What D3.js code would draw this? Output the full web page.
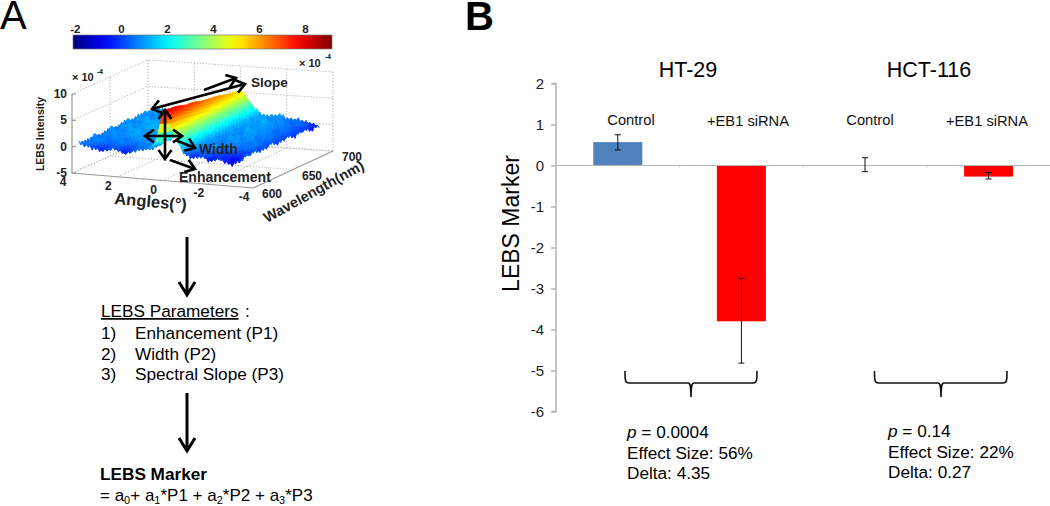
<!DOCTYPE html>
<html>
<head>
<meta charset="utf-8">
<script src="https://cdn.jsdelivr.net/npm/d3@7"></script>
<style>
  html, body { margin: 0; padding: 0; background: #fff; }
  text { font-family: "Liberation Sans", Arial, sans-serif; fill: #000; }
</style>
</head>
<body>
<svg id="fig" width="1050" height="506"></svg>
<script>
// panel B values
const conditions = ["Control", "+EB1 siRNA", "Control", "+EB1 siRNA"];
const markerValues = [0.57, -3.8, 0, -0.27];
const errLow = [0.38, -4.82, -0.15, -0.33];
const errHigh = [0.75, -2.75, 0.19, -0.17];
const barColors = ["#4f81bd", "#ff0000", "#4f81bd", "#ff0000"];
const yTicks = [2, 1, 0, -1, -2, -3, -4, -5, -6];
const cellLines = ["HT-29", "HCT-116"];
const stats1 = ["= 0.0004", "Effect Size: 56%", "Delta: 4.35"];
const stats2 = ["= 0.14", "Effect Size: 22%", "Delta: 0.27"];

// panel A: LEBS surface, z in units of 1e-4
const angles = [3.7, 3.2, 2.7, 2.2, 1.7, 1.2, 0.7, 0.3, 0.1, 0, -0.12, -0.25, -0.4, -0.55, -0.7, -0.85, -1, -1.3, -1.7, -2.1, -2.5, -3, -3.4];
const wavelengths = [600, 610, 620, 630, 640, 650, 660, 670, 680, 690, 700];
const lebsZ = [
  [0.9, 0.1, -0.3, 0.2, -0.4, 0.3, 0.7, 2.2, 5.8, 8.3, 7.6, 6.5, 5.0, 3.6, 2.4, 1.2, 0.2, -0.3, 0.2, -0.6, 0.1, -1.0, -0.2],
  [0.5, 0.9, 0.3, 0.8, 0.1, 0.9, 0.4, 1.6, 5.2, 8.0, 7.4, 6.4, 5.1, 3.8, 2.7, 1.8, 1.2, 0.4, 0.7, 0.1, -0.3, -0.6, 0.4],
  [0.9, 0.4, 1.0, 0.5, 1.2, 0.6, 1.1, 1.7, 4.8, 7.8, 7.1, 6.2, 4.9, 3.7, 2.6, 1.7, 1.4, 0.6, 1.0, 0.5, 0.9, 0.2, 0.3],
  [0.4, 1.1, 0.6, 1.3, 0.7, 1.2, 0.8, 1.4, 4.4, 7.3, 6.9, 5.9, 4.6, 3.5, 2.5, 1.7, 1.1, 0.9, 0.5, 1.1, 0.4, 0.8, -0.1],
  [1.0, 0.5, 1.2, 0.8, 1.4, 0.9, 1.3, 1.8, 4.1, 7.2, 6.6, 5.7, 4.5, 3.4, 2.4, 1.6, 1.2, 0.6, 1.2, 0.7, 1.0, 0.3, 0.4],
  [0.5, 1.2, 0.7, 1.4, 0.9, 1.5, 1.0, 1.5, 3.8, 6.7, 6.3, 5.4, 4.2, 3.2, 2.3, 1.6, 1.1, 1.0, 0.6, 1.2, 0.5, 0.8, -0.2],
  [1.1, 0.6, 1.3, 0.9, 1.5, 1.1, 1.4, 1.9, 3.6, 6.5, 6.0, 5.2, 4.1, 3.1, 2.2, 1.5, 1.3, 0.7, 1.3, 0.8, 1.0, 0.2, 0.3],
  [0.6, 1.2, 0.8, 1.5, 1.0, 1.4, 1.1, 1.6, 3.3, 6.3, 5.7, 4.9, 3.9, 2.9, 2.1, 1.6, 1.1, 1.1, 0.7, 1.2, 0.4, 0.7, -0.3],
  [1.0, 0.5, 1.2, 0.7, 1.3, 0.9, 1.3, 1.7, 3.1, 5.9, 5.5, 4.7, 3.7, 2.8, 2.1, 1.5, 1.3, 0.8, 1.4, 0.7, 0.9, 0.1, 0.2],
  [0.8, 1.3, 0.6, 1.1, 0.7, 1.2, 0.9, 1.4, 2.8, 5.6, 5.2, 4.5, 3.5, 2.7, 2.0, 1.6, 1.0, 1.2, 0.6, 1.0, 0.3, 0.6, -0.5],
  [1.0, 0.6, 0.9, 0.5, 1.0, 0.6, 1.1, 1.2, 2.6, 5.3, 5.0, 4.3, 3.4, 2.6, 1.9, 1.3, 0.9, 0.7, 1.2, 0.4, 0.6, -0.1, -0.4]
];
// fine grain of the measured surface, a small hand-picked tile
const grain = [
  [0.8, -0.7, 0.3, -0.9, 0.6, -0.2, 0.9],
  [-0.5, 0.6, -0.9, 0.4, -0.3, 0.8, -0.6],
  [0.2, -0.8, 0.7, -0.1, 0.9, -0.7, 0.4],
  [-0.9, 0.5, -0.3, 0.8, -0.6, 0.2, -0.4],
  [0.6, -0.2, 0.9, -0.7, 0.1, -0.8, 0.7],
  [-0.4, 0.8, -0.6, 0.3, -0.9, 0.5, -0.1],
  [0.7, -0.6, 0.2, -0.5, 0.8, -0.3, 0.6],
  [-0.8, 0.3, -0.7, 0.9, -0.2, 0.6, -0.9],
  [0.4, -0.9, 0.6, -0.4, 0.7, -0.1, 0.3],
  [-0.2, 0.7, -0.5, 0.1, -0.8, 0.9, -0.7],
  [0.9, -0.3, 0.5, -0.8, 0.4, -0.6, 0.1]
];
const zTicks = [10, 5, 0, -5];
const angleTicks = [4, 2, 0, -2, -4];
const waveTicks = [600, 650, 700];
const colorTicks = [-2, 0, 2, 4, 6, 8];
const jetStops = ["#00007f", "#0000ff", "#00ffff", "#ffff00", "#ff0000", "#7f0000"];
const paramLines = ["Enhancement (P1)", "Width (P2)", "Spectral Slope (P3)"];

const svg = d3.select("#fig");
const defs = svg.append("defs");
defs.append("filter").attr("id", "soft").append("feGaussianBlur").attr("stdDeviation", 0.5);

// ---------- panel B ----------
const y = d3.scaleLinear().domain([-6, 2]).range([411.5, 83.5]);
const x = d3.scaleBand().domain(d3.range(4)).range([556, 1050.4]);
const barW = 49;

const axis = svg.append("g")
  .attr("transform", "translate(556,0)")
  .call(d3.axisLeft(y).tickValues(yTicks).tickSize(5).tickPadding(7).tickFormat(d => String(d)));
axis.selectAll("path,line").attr("stroke", "#b5b5b5").attr("stroke-width", 1.5);
axis.selectAll("text").style("font-size", "15px").style("fill", "#222");
axis.select(".domain").attr("d", `M-4,${y(2)}H0V${y(-6)}H-4`);

svg.selectAll("rect.bar").data(markerValues).enter().append("rect")
  .attr("class", "bar")
  .attr("x", (d, i) => x(i) + x.bandwidth() / 2 - barW / 2)
  .attr("width", barW)
  .attr("y", d => y(Math.max(0, d)))
  .attr("height", d => Math.abs(y(d) - y(0)))
  .attr("fill", (d, i) => barColors[i]);

svg.append("line").attr("x1", 556).attr("x2", 1050).attr("y1", y(0)).attr("y2", y(0))
  .attr("stroke", "#b5b5b5").attr("stroke-width", 1.2);
svg.selectAll("line.cat").data(d3.range(1, 4)).enter().append("line")
  .attr("x1", d => x(d)).attr("x2", d => x(d))
  .attr("y1", y(0)).attr("y2", y(0) + 2).attr("stroke", "#c8c8c8");

const errs = svg.selectAll("g.err").data(markerValues).enter().append("g")
  .attr("transform", (d, i) => `translate(${x(i) + x.bandwidth() / 2},0)`)
  .attr("stroke", "#111").attr("stroke-width", 1);
errs.append("line").attr("y1", (d, i) => y(errLow[i])).attr("y2", (d, i) => y(errHigh[i]));
errs.append("line").attr("x1", -3).attr("x2", 3).attr("y1", (d, i) => y(errLow[i])).attr("y2", (d, i) => y(errLow[i]));
errs.append("line").attr("x1", -3).attr("x2", 3).attr("y1", (d, i) => y(errHigh[i])).attr("y2", (d, i) => y(errHigh[i]));

svg.selectAll("text.cond").data(conditions).enter().append("text")
  .attr("x", (d, i) => [631, 748, 870, 987][i])
  .attr("y", (d, i) => [125, 126, 125, 126][i])
  .attr("text-anchor", "middle").style("font-size", "14.7px").style("fill", "#111")
  .text(d => d);

svg.selectAll("text.line").data(cellLines).enter().append("text")
  .attr("x", (d, i) => [688, 929][i]).attr("y", 77)
  .attr("text-anchor", "middle").style("font-size", "21.5px").text(d => d);

svg.append("text").attr("transform", "translate(519,223.5) rotate(-90)")
  .attr("text-anchor", "middle").style("font-size", "23px").text("LEBS Marker");

function brace(x0, x1, xm, top) {
  return `M${x0},${top}C${x0},${top + 9} ${x0},${top + 12} ${x0 + 4},${top + 12}L${xm - 3},${top + 12}`
    + `C${xm - 1},${top + 12} ${xm},${top + 14} ${xm},${top + 26}C${xm},${top + 14} ${xm + 1},${top + 12} ${xm + 3},${top + 12}`
    + `L${x1 - 4},${top + 12}C${x1},${top + 12} ${x1},${top + 9} ${x1},${top}`;
}
[[625, 757, 691], [874.5, 1007, 941]].forEach(b => {
  svg.append("path").attr("d", brace(b[0], b[1], b[2], 371))
    .attr("fill", "none").attr("stroke", "#111").attr("stroke-width", 1.6);
});

[[627, 438, stats1], [888, 437, stats2]].forEach(s => {
  s[2].forEach((t, i) => {
    const el = svg.append("text").attr("x", s[0]).attr("y", s[1] + i * 20.5).style("font-size", "17.2px");
    if (i === 0) {
      el.append("tspan").style("font-style", "italic").text("p");
      el.append("tspan").text(" " + t);
    } else {
      el.text(t);
    }
  });
});

svg.append("text").attr("x", 465).attr("y", 30).style("font-size", "40px").style("font-weight", "bold").text("B");
svg.append("text").attr("x", 0).attr("y", 29).style("font-size", "40px").text("A");

// ---------- panel A: colour bar ----------
const jet = d3.scaleLinear()
  .domain([-2.1, -0.7, 2.1, 4.9, 7.7, 9.1])
  .range(jetStops).clamp(true);
const cbar = d3.scaleLinear().domain([-2.1, 9.15]).range([73, 332]);

const grad = defs.append("linearGradient").attr("id", "jetbar");
d3.range(0, 1.001, 0.05).forEach(t => {
  grad.append("stop").attr("offset", t).attr("stop-color", jet(cbar.domain()[0] + t * (cbar.domain()[1] - cbar.domain()[0])));
});
svg.append("rect").attr("x", 73).attr("y", 35).attr("width", 259).attr("height", 14)
  .attr("fill", "url(#jetbar)").attr("stroke", "#777").attr("stroke-width", 0.7);
svg.selectAll("text.cb").data(colorTicks).enter().append("text")
  .attr("x", d => cbar(d)).attr("y", 33).attr("text-anchor", "middle")
  .style("font-size", "11.5px").style("font-weight", "bold").style("fill", "#222").text(d => d);

// ---------- panel A: 3D box, projected bilinearly from the floor corners ----------
const angleT = d3.scaleLinear().domain([4, -4]).range([0, 1]);
const waveT = d3.scaleLinear().domain([600, 700]).range([0, 1]);
const zPx = d3.scaleLinear().domain([-5, 10]).range([0, 79]);
const floor = { fl: [72, 173], fr: [253, 188], br: [333, 151], bl: [148, 139] };
function project(a, w, z) {
  const s = angleT(a), t = waveT(w);
  const fx = floor.fl[0] + s * (floor.fr[0] - floor.fl[0]), fy = floor.fl[1] + s * (floor.fr[1] - floor.fl[1]);
  const bx = floor.bl[0] + s * (floor.br[0] - floor.bl[0]), by = floor.bl[1] + s * (floor.br[1] - floor.bl[1]);
  return [fx + t * (bx - fx), fy + t * (by - fy) - zPx(z)];
}
const line3 = d3.line();
const box = svg.append("g").attr("fill", "none").attr("stroke", "#aaa").attr("stroke-width", 0.9).attr("stroke-dasharray", "1.2 1.8");
zTicks.forEach(z => {
  box.append("path").attr("d", line3([project(4, 600, z), project(4, 700, z), project(-4, 700, z)]));
});
angleTicks.slice(1, 4).forEach(a => {
  box.append("path").attr("d", line3([project(a, 600, -5), project(a, 700, -5), project(a, 700, 10)]));
});
waveTicks.slice(1, 2).forEach(w => {
  box.append("path").attr("d", line3([project(4, w, 10), project(4, w, -5), project(-4, w, -5)]));
});
box.append("path").attr("d", line3([project(4, 700, -5), project(4, 700, 10)]));
box.append("path").attr("d", line3([project(-4, 700, -5), project(-4, 700, 10)]));
box.append("path").attr("d", line3([project(4, 600, -5), project(4, 700, -5), project(-4, 700, -5)]));

const solid = svg.append("g").attr("fill", "none").attr("stroke", "#999").attr("stroke-width", 1.2);
solid.append("path").attr("d", line3([project(4, 600, 10), project(4, 600, -5), project(-4, 600, -5), project(-4, 700, -5)]));
zTicks.forEach(z => {
  const p = project(4, 600, z);
  solid.append("line").attr("x1", p[0]).attr("x2", p[0] + 4).attr("y1", p[1]).attr("y2", p[1]);
});

// surface: far rows first, each cell cut into small pieces
const surface = svg.append("g").attr("filter", "url(#soft)");
const SUB_W = 5;
const grainAmount = d3.scaleLinear().domain([2, 3.5]).range([0.42, 0.03]).clamp(true);
const subA = d3.pairs(angles).map(p => Math.max(1, Math.round(Math.abs(p[1] - p[0]) / 0.08)));
const colStart = d3.cumsum([0].concat(subA));
function vertex(c, j, r, k) {
  const u = j / subA[c], v = k / SUB_W;
  const a = angles[c] + (angles[c + 1] - angles[c]) * u;
  const w = wavelengths[r] + (wavelengths[r + 1] - wavelengths[r]) * v;
  const z0 = lebsZ[r][c] + (lebsZ[r][c + 1] - lebsZ[r][c]) * u;
  const z1 = lebsZ[r + 1][c] + (lebsZ[r + 1][c + 1] - lebsZ[r + 1][c]) * u;
  const z = z0 + (z1 - z0) * v;
  const col = colStart[c] + j;
  const g = grain[(r * SUB_W + k + 3 * Math.floor(col / 7)) % grain.length][col % 7];
  return { p: project(a, w, z + g * grainAmount(z)), z, g };
}
for (let r = wavelengths.length - 2; r >= 0; r--) {
  for (let k = SUB_W - 1; k >= 0; k--) {
    for (let c = 0; c < angles.length - 1; c++) {
      for (let j = 0; j < subA[c]; j++) {
        const q = [vertex(c, j, r, k), vertex(c, j + 1, r, k), vertex(c, j + 1, r, k + 1), vertex(c, j, r, k + 1)];
        const mz = d3.mean(q, d => d.z);
        const col = jet(mz < 2.2 ? mz + 0.5 * d3.mean(q, d => d.g) : mz);
        surface.append("path").attr("d", line3(q.map(d => d.p)) + "Z")
          .attr("fill", col).attr("stroke", col).attr("stroke-width", 0.6);
      }
    }
  }
}

// annotation arrows on the surface
defs.append("marker").attr("id", "chev").attr("viewBox", "-11 -8 13 16")
  .attr("markerWidth", 13).attr("markerHeight", 16).attr("markerUnits", "userSpaceOnUse").attr("orient", "auto-start-reverse")
  .append("path").attr("d", "M-9,-6.5L0,0L-9,6.5").attr("fill", "none").attr("stroke", "#000").attr("stroke-width", 2.6);
const arrows = [
  [[152, 109], [245, 84], true],
  [[204, 90], [236, 78], false],
  [[165, 110], [165, 159], true],
  [[145, 136], [182, 136], true],
  [[175, 140], [195, 148], false],
  [[170, 160], [195, 169], false]
];
arrows.forEach(a => {
  svg.append("line").attr("x1", a[0][0]).attr("y1", a[0][1]).attr("x2", a[1][0]).attr("y2", a[1][1])
    .attr("stroke", "#000").attr("stroke-width", 2.6).attr("marker-end", "url(#chev)")
    .attr("marker-start", a[2] ? "url(#chev)" : null);
});

const boldLabels = [
  ["Slope", 251, 87, 13.5, 0],
  ["Width", 199, 154, 14, 0],
  ["Enhancement", 179, 182, 14, 0],
  ["Angles(°)", 114, 204, 16.5, 5],
  ["Wavelength(nm)", 267, 223, 14.5, -29],
  ["× 10", 72, 81, 11, 0],
  ["× 10", 299, 67, 11, 0]
];
boldLabels.forEach(l => {
  svg.append("text").attr("transform", `translate(${l[1]},${l[2]}) rotate(${l[4]})`)
    .style("font-size", l[3] + "px").style("font-weight", "bold").style("fill", "#222").text(l[0]);
});
[[97, 74], [325, 59]].forEach(p => {
  svg.append("text").attr("x", p[0]).attr("y", p[1]).style("font-size", "6.5px").style("font-weight", "bold").text("-4");
});
svg.append("text").attr("transform", "translate(44,134) rotate(-90)").attr("text-anchor", "middle")
  .style("font-size", "10.5px").style("font-weight", "bold").style("fill", "#222").text("LEBS Intensity");

svg.selectAll("text.zt").data(zTicks).enter().append("text")
  .attr("x", 67).attr("y", d => project(4, 600, d)[1] + 4).attr("text-anchor", "end")
  .style("font-size", "12px").style("font-weight", "bold").style("fill", "#222").text(d => d);
svg.selectAll("text.at").data(angleTicks).enter().append("text")
  .attr("x", d => project(d, 600, -5)[0] - 9).attr("y", d => project(d, 600, -5)[1] + 13)
  .attr("text-anchor", "middle").style("font-size", "12px").style("font-weight", "bold").style("fill", "#222").text(d => d);
svg.selectAll("text.wt").data(waveTicks).enter().append("text")
  .attr("x", d => project(-4, d, -5)[0] + 19).attr("y", d => project(-4, d, -5)[1] + 10)
  .attr("text-anchor", "middle").style("font-size", "12px").style("font-weight", "bold").style("fill", "#222").text(d => d);

// ---------- panel A: flow text ----------
function bigArrow(ax, y0, y1) {
  svg.append("path").attr("d", `M${ax},${y0}V${y1}M${ax - 8},${y1 - 13}L${ax},${y1}L${ax + 8},${y1 - 13}`)
    .attr("fill", "none").attr("stroke", "#000").attr("stroke-width", 3);
}
bigArrow(187, 237, 295);
bigArrow(187, 393, 451);

svg.append("text").attr("x", 101).attr("y", 317).style("font-size", "17.2px")
  .style("text-decoration", "underline").text("LEBS Parameters");
svg.append("text").attr("x", 245).attr("y", 317).style("font-size", "17.2px").text(":");
paramLines.forEach((t, i) => {
  const ly = 339 + i * 20.5;
  svg.append("text").attr("x", 101).attr("y", ly).style("font-size", "17.2px").text((i + 1) + ")");
  svg.append("text").attr("x", 135).attr("y", ly).style("font-size", "17.2px").text(t);
});
svg.append("text").attr("x", 100).attr("y", 480).style("font-size", "17.2px").style("font-weight", "bold").text("LEBS Marker");
const eq = svg.append("text").attr("x", 100).attr("y", 501).style("font-size", "17px");
[["= a", 0], ["0", 1], ["+ a", 0], ["1", 1], ["*P1 + a", 0], ["2", 1], ["*P2 + a", 0], ["3", 1], ["*P3", 0]].forEach(s => {
  const ts = eq.append("tspan").text(s[0]);
  if (s[1]) ts.attr("baseline-shift", "-3px").style("font-size", "11px");
});
</script>
</body>
</html>
